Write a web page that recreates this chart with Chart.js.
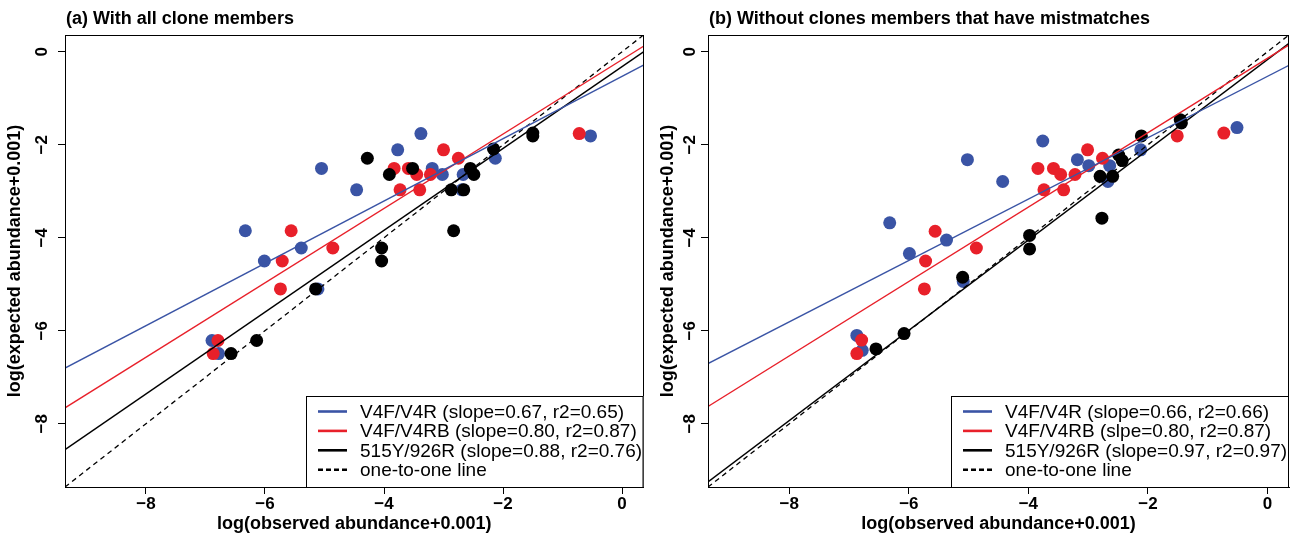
<!DOCTYPE html>
<html><head><meta charset="utf-8">
<script src="https://cdn.jsdelivr.net/npm/chart.js@4.4.0/dist/chart.umd.min.js"></script>
<style>
html,body{margin:0;padding:0;background:#fff;width:1297px;height:543px;overflow:hidden}
canvas{position:absolute;top:0}
#ca{left:0}
#cb{left:650px}
</style></head><body>
<canvas id="ca" width="650" height="543"></canvas>
<canvas id="cb" width="647" height="543"></canvas>
<script>
// ---- shared axis data ----
const tickValues = [-8, -6, -4, -2, 0];
const axisMin = -9.36, axisMax = 0.36;
const xTitle = 'log(observed abundance+0.001)';
const yTitle = 'log(expected abundance+0.001)';
const seriesColors = ['#3a54a5', '#e8202a', '#000000'];

// ---- panel (a) ----
const titleA = '(a) With all clone members';
const aBlueX = [-6.89,-6.78,-6.33,-6.01,-5.39,-5.11,-5.05,-4.46,-3.77,-3.38,-3.19,-3.02,-2.69,-2.67,-2.13,-0.53];
const aBlueY = [-6.21,-6.49,-3.85,-4.50,-4.22,-5.10,-2.51,-2.97,-2.11,-1.76,-2.51,-2.64,-2.97,-2.64,-2.29,-1.81];
const aRedX = [-6.87,-6.79,-5.74,-5.71,-5.56,-4.86,-3.83,-3.73,-3.59,-3.45,-3.40,-3.22,-3.00,-2.75,-0.72];
const aRedY = [-6.49,-6.21,-5.10,-4.50,-3.85,-4.22,-2.51,-2.97,-2.51,-2.64,-2.97,-2.64,-2.11,-2.29,-1.76];
const aBlackX = [-6.57,-6.14,-5.15,-4.28,-4.04,-4.04,-3.91,-3.52,-2.87,-2.83,-2.66,-2.55,-2.49,-2.16,-1.50,-1.50];
const aBlackY = [-6.49,-6.21,-5.10,-2.29,-4.22,-4.50,-2.64,-2.51,-2.97,-3.85,-2.97,-2.51,-2.64,-2.09,-1.75,-1.81];
const aSlopes = [0.67, 0.80, 0.88];
const aIntercepts = [-0.53, -0.17, -0.32];
const aLegend = ['V4F/V4R (slope=0.67, r2=0.65)', 'V4F/V4RB (slope=0.80, r2=0.87)', '515Y/926R (slope=0.88, r2=0.76)', 'one-to-one line'];

// ---- panel (b) ----
const titleB = '(b) Without clones members that have mistmatches';
const bBlueX = [-6.87,-6.78,-6.32,-5.99,-5.37,-5.09,-5.02,-4.43,-3.76,-3.18,-2.99,-2.67,-2.64,-2.12,-0.51];
const bBlueY = [-6.10,-6.42,-3.68,-4.34,-4.05,-4.94,-2.32,-2.79,-1.92,-2.32,-2.45,-2.79,-2.45,-2.11,-1.63];
const bRedX = [-6.87,-6.79,-5.74,-5.72,-5.56,-4.87,-3.84,-3.74,-3.58,-3.46,-3.41,-3.22,-3.01,-2.76,-1.51,-0.73];
const bRedY = [-6.49,-6.20,-5.10,-4.50,-3.86,-4.22,-2.51,-2.97,-2.51,-2.64,-2.97,-2.64,-2.11,-2.29,-1.81,-1.75];
const bBlackX = [-6.55,-6.08,-5.10,-3.98,-3.98,-2.80,-2.77,-2.59,-2.49,-2.43,-2.11,-1.46,-1.44];
const bBlackY = [-6.39,-6.06,-4.85,-3.95,-4.24,-2.68,-3.58,-2.68,-2.22,-2.34,-1.81,-1.46,-1.53];
const bSlopes = [0.66, 0.80, 0.97];
const bIntercepts = [-0.53, -0.14, -0.17];
const bLegend = ['V4F/V4R (slope=0.66, r2=0.66)', 'V4F/V4RB (slpe=0.80, r2=0.87)', '515Y/926R (slope=0.97, r2=0.97)', 'one-to-one line'];

const FONT = '"Liberation Sans", Arial, Helvetica, sans-serif';
const fmt = v => (v < 0 ? '\u2212' : '') + Math.abs(v);
const pts = (xs, ys) => xs.map((x, i) => ({x, y: ys[i]}));

function makePanel(id, p) {
  const pointSets = [p.bx, p.rx, p.kx].map((xs, i) => ({
    type: 'scatter',
    data: pts(xs, [p.by, p.ry, p.ky][i]),
    backgroundColor: seriesColors[i],
    borderWidth: 0,
    pointRadius: 6.5,
    order: 3 - i + 1
  }));
  const lineSets = p.slopes.map((s, i) => ({
    type: 'line',
    data: [{x: axisMin, y: s * axisMin + p.icpt[i]}, {x: axisMax, y: s * axisMax + p.icpt[i]}],
    borderColor: seriesColors[i],
    borderWidth: 1.4,
    pointRadius: 0,
    showLine: true,
    order: 0
  }));
  lineSets.push({
    type: 'line',
    data: [{x: axisMin, y: axisMin}, {x: axisMax, y: axisMax}],
    borderColor: '#000',
    borderWidth: 1.3,
    borderDash: [5, 4],
    pointRadius: 0,
    showLine: true,
    order: 0
  });

  const decor = {
    id: 'decor',
    afterDraw(chart) {
      const {ctx, chartArea: a, scales} = chart;
      ctx.save();
      // frame
      ctx.strokeStyle = '#000'; ctx.lineWidth = 1;
      ctx.strokeRect(Math.round(a.left) + 0.5, Math.round(a.top) + 0.5, Math.round(a.right - a.left) - 1, Math.round(a.bottom - a.top));
      // y tick labels (rotated, R style)
      ctx.fillStyle = '#000';
      ctx.font = 'bold 17px ' + FONT;
      ctx.textAlign = 'center'; ctx.textBaseline = 'middle';
      tickValues.forEach(v => {
        const py = scales.y.getPixelForValue(v);
        ctx.save();
        ctx.translate(a.left - p.yLabOff, py);
        ctx.rotate(-Math.PI / 2);
        ctx.fillText(fmt(v), 0, 0);
        ctx.restore();
      });
      // title
      ctx.font = 'bold 18px ' + FONT;
      ctx.textAlign = 'left'; ctx.textBaseline = 'middle';
      ctx.fillText(p.title, a.left + 1, 19);
      // legend
      const L = p.legLeft, T = 396, R = a.right, B = a.bottom;
      ctx.fillStyle = '#fff';
      ctx.fillRect(L, T, R - L, B - T);
      ctx.strokeStyle = '#000'; ctx.lineWidth = 1;
      ctx.strokeRect(L + 0.5, T + 0.5, R - L - 1, B - T);
      ctx.font = '19px ' + FONT;
      ctx.textBaseline = 'middle';
      p.legend.forEach((txt, i) => {
        const y = 411.5 + i * 19.4;
        ctx.beginPath();
        ctx.lineWidth = 2.6;
        ctx.strokeStyle = i < 3 ? seriesColors[i] : '#000';
        ctx.setLineDash(i < 3 ? [] : [5, 3]);
        ctx.moveTo(L + 12, y); ctx.lineTo(L + 41, y);
        ctx.stroke();
        ctx.setLineDash([]);
        ctx.fillStyle = '#000';
        ctx.fillText(txt, L + 54, y + 1);
      });
      ctx.restore();
    }
  };

  return new Chart(document.getElementById(id), {
    type: 'scatter',
    data: {datasets: [...lineSets, ...pointSets]},
    options: {
      responsive: false,
      animation: false,
      devicePixelRatio: 1,
      layout: {padding: {top: 35, right: p.padR, left: 0, bottom: 0}},
      plugins: {legend: {display: false}, tooltip: {enabled: false}, title: {display: false}},
      scales: {
        x: {
          type: 'linear', min: axisMin, max: axisMax,
          afterBuildTicks: s => { s.ticks = tickValues.map(v => ({value: v})); },
          afterFit: s => { s.height = 56; },
          grid: {drawOnChartArea: false, drawTicks: true, tickLength: 7, color: '#000', lineWidth: 1},
          border: {display: true, color: '#000', width: 1},
          ticks: {color: '#000', padding: 0, maxRotation: 0, autoSkip: false,
                  font: {family: FONT, size: 17, weight: 'bold'}, callback: v => fmt(v)},
          title: {display: true, text: xTitle, color: '#000',
                  font: {family: FONT, size: 18, weight: 'bold'}, padding: {top: 0, bottom: 8}}
        },
        y: {
          type: 'linear', min: axisMin, max: axisMax,
          afterBuildTicks: s => { s.ticks = tickValues.map(v => ({value: v})); },
          afterFit: s => { s.width = p.yW; },
          grid: {drawOnChartArea: false, drawTicks: true, tickLength: 7, color: '#000', lineWidth: 1},
          border: {display: true, color: '#000', width: 1},
          ticks: {color: 'rgba(0,0,0,0)', font: {family: FONT, size: 17, weight: 'bold'}, callback: v => fmt(v)},
          title: {display: true, text: yTitle, color: '#000',
                  font: {family: FONT, size: 18, weight: 'bold'}, padding: {top: p.yTitlePad, bottom: 0}}
        }
      }
    },
    plugins: [decor]
  });
}

makePanel('ca', {title: titleA, bx: aBlueX, by: aBlueY, rx: aRedX, ry: aRedY, kx: aBlackX, ky: aBlackY,
  slopes: aSlopes, icpt: aIntercepts, legend: aLegend, yW: 65, padR: 5, yLabOff: 23, yTitlePad: 4, legLeft: 306});
makePanel('cb', {title: titleB, bx: bBlueX, by: bBlueY, rx: bRedX, ry: bRedY, kx: bBlackX, ky: bBlackY,
  slopes: bSlopes, icpt: bIntercepts, legend: bLegend, yW: 58, padR: 8, yLabOff: 18, yTitlePad: 7, legLeft: 301});
</script>
</body></html>
